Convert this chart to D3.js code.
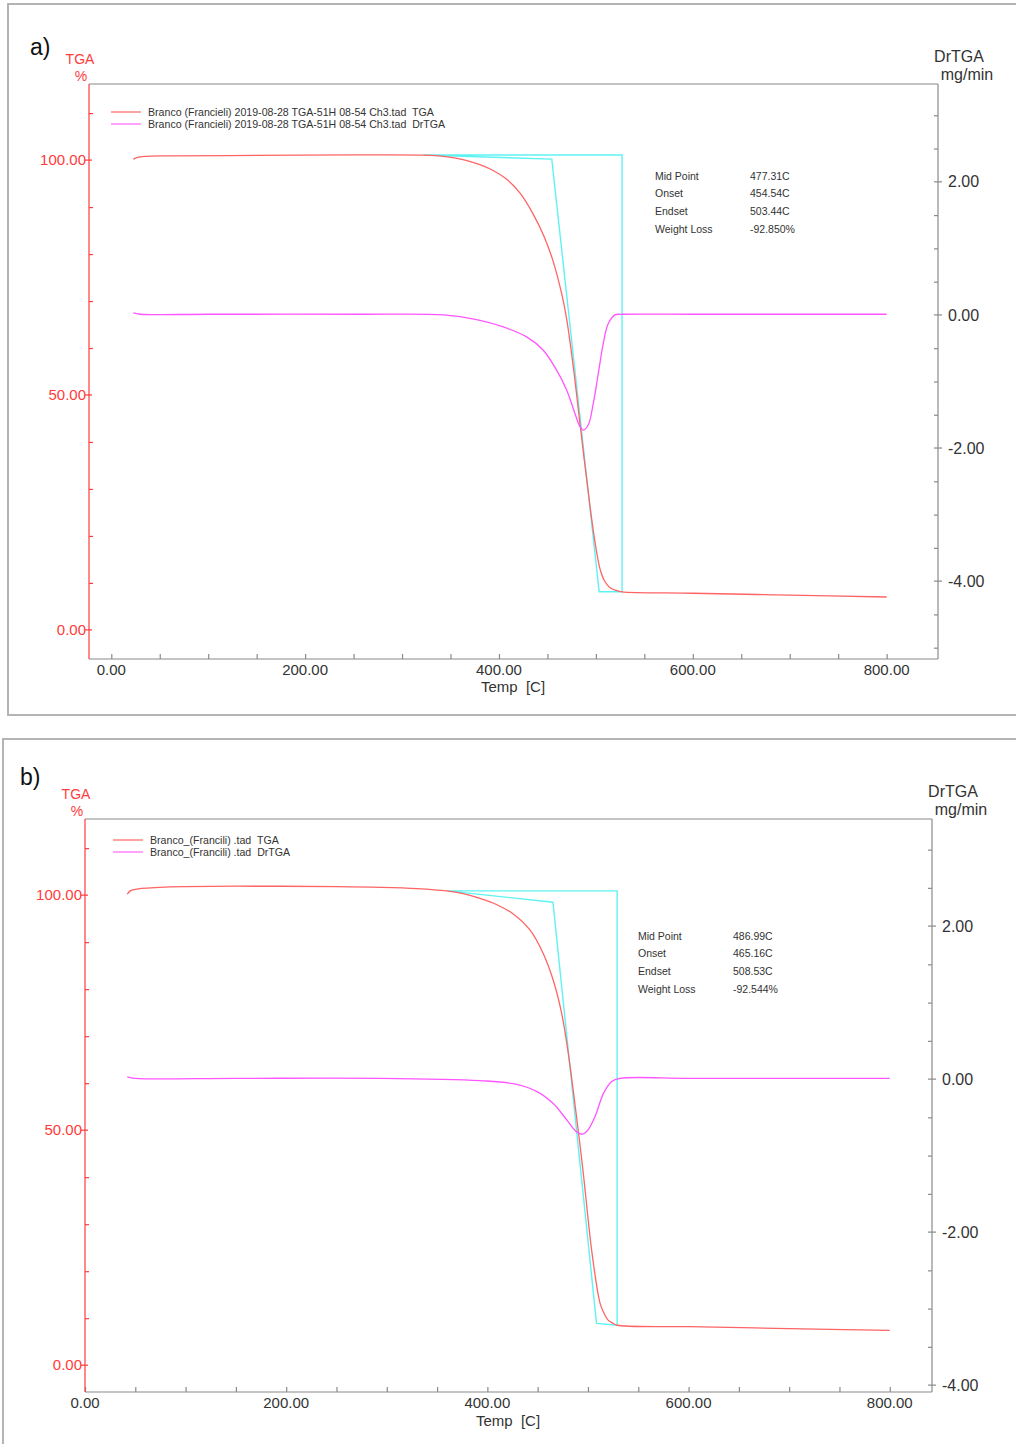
<!DOCTYPE html>
<html>
<head>
<meta charset="utf-8">
<script src="https://cdn.jsdelivr.net/npm/d3@7"></script>
<style>
  body { margin: 0; background: #fff; }
  svg { display: block; font-family: "Liberation Sans", Arial, sans-serif; }
  text { white-space: pre; }
</style>
</head>
<body>
<svg id="chart" width="1016" height="1444"></svg>
<script>
// ---- panel a data ----
const tgaTempA = [22.7, 27, 35, 60, 150, 250, 322, 345, 363, 378, 391, 408, 422, 435, 446, 456, 465, 470, 477, 484, 494, 500, 504.5, 509, 515, 521, 527, 600, 700, 800];
const tgaA     = [100.2, 100.6, 100.8, 100.9, 101.0, 101.1, 101.06, 100.75, 100.1, 99.2, 98.1, 95.9, 92.9, 88.6, 84.0, 78.4, 71.3, 66.0, 55.5, 43.2, 26.2, 17.5, 12.8, 10.4, 8.9, 8.4, 8.1, 7.8, 7.4, 7.0];
const drTempA  = [22.7, 30, 100, 257, 343, 377, 404.5, 428.6, 445.7, 459.5, 469.9, 478.4, 483.6, 487, 492.2, 497.3, 502.5, 507.6, 512.8, 519.7, 526.6, 600, 700, 800];
const drtgaA   = [0.03, 0.01, 0.01, 0.01, 0.0, -0.07, -0.18, -0.33, -0.53, -0.83, -1.13, -1.48, -1.68, -1.73, -1.65, -1.33, -0.88, -0.43, -0.13, 0.0, 0.01, 0.01, 0.01, 0.01];
const cyanTempA = [322, 527, 527, 503.4, 454.5, 322];
const cyanTgaA  = [101.1, 101.1, 8.1, 8.1, 100.2, 101.1];
const legendA = ["Branco (Francieli) 2019-08-28 TGA-51H 08-54 Ch3.tad  TGA", "Branco (Francieli) 2019-08-28 TGA-51H 08-54 Ch3.tad  DrTGA"];
const resultValuesA = ["477.31C", "454.54C", "503.44C", "-92.850%"];

// ---- panel b data ----
const tgaTempB = [42, 45, 52, 80, 150, 250, 293, 330, 359.5, 376, 392.6, 410, 425.7, 442.3, 455.5, 465.5, 473.8, 480.4, 489, 495, 504, 512, 516, 520, 525, 529, 600, 700, 800];
const tgaB     = [100.2, 100.9, 101.3, 101.7, 101.9, 101.8, 101.67, 101.4, 100.9, 100.3, 99.3, 97.9, 96.0, 92.6, 87.6, 81.9, 74.9, 66.4, 52.2, 41.5, 23.9, 13.2, 11.0, 9.6, 8.9, 8.5, 8.2, 7.8, 7.4];
const drTempB  = [42, 50, 150, 293, 392.6, 425.7, 448.9, 465.5, 478.7, 488.7, 494.7, 500.3, 507, 515.3, 523.6, 531.8, 600, 700, 800];
const drtgaB   = [0.03, 0.01, 0.01, 0.01, -0.02, -0.06, -0.16, -0.32, -0.53, -0.69, -0.72, -0.66, -0.49, -0.19, -0.03, 0.01, 0.01, 0.01, 0.01];
const cyanTempB = [360, 529, 529, 508.5, 465.2, 360];
const cyanTgaB  = [100.9, 100.9, 8.5, 8.9, 98.5, 100.9];
const legendB = ["Branco_(Francili) .tad  TGA", "Branco_(Francili) .tad  DrTGA"];
const resultValuesB = ["486.99C", "465.16C", "508.53C", "-92.544%"];

// ---- shared tick setup ----
const resultLabels = ["Mid Point", "Onset", "Endset", "Weight Loss"];
const xMajor = [0, 200, 400, 600, 800];
const xMinor = d3.range(0, 801, 50);
const tgaMajor = [0, 50, 100];
const tgaMinor = d3.range(0, 111, 10);
const drMajor = [-4, -2, 0, 2];

const RED = "#ff3b3b";
const svg = d3.select("#chart");

function drawPanel(p) {
  const g = svg.append("g");

  // outer frame
  g.append("rect")
    .attr("x", p.frame[0]).attr("y", p.frame[1])
    .attr("width", p.frame[2]).attr("height", p.frame[3])
    .attr("fill", "none").attr("stroke", "#b4b4b4").attr("stroke-width", 2);

  const x = d3.scaleLinear().domain(p.xDomain).range([p.left, p.right]);
  const yL = d3.scaleLinear().domain(p.yLDomain).range([p.bottom, p.top]);
  const yR = d3.scaleLinear().domain(p.yRDomain).range([p.bottom, p.top]);

  // plot box top line
  g.append("line")
    .attr("x1", p.left).attr("x2", p.right).attr("y1", p.top).attr("y2", p.top)
    .attr("stroke", "#8a8a8a").attr("stroke-width", 1.2);

  // bottom axis
  const xAxis = g.append("g").attr("transform", `translate(0,${p.bottom})`);
  xAxis.call(d3.axisBottom(x).tickValues(xMinor).tickSize(-5).tickFormat(""));
  xAxis.select(".domain").attr("d", `M${p.left},0H${p.right}`);
  xAxis.selectAll("path,line").attr("stroke", "#8a8a8a").attr("stroke-width", 1.2);
  xAxis.selectAll(".lbl").data(xMajor).enter().append("text")
    .attr("x", d => x(d)).attr("y", 16)
    .attr("text-anchor", "middle").attr("fill", "#333").attr("font-size", 15)
    .text(d => d.toFixed(2));
  g.append("text")
    .attr("x", p.xTitle[0]).attr("y", p.xTitle[1])
    .attr("text-anchor", "middle").attr("fill", "#333").attr("font-size", 15)
    .text("Temp  [C]");

  // left TGA axis
  const lAxis = g.append("g").attr("transform", `translate(${p.left},0)`);
  lAxis.call(d3.axisLeft(yL).tickValues(tgaMinor.filter(d => !tgaMajor.includes(d))).tickSize(-4).tickFormat(""));
  lAxis.select(".domain").attr("d", `M0,${p.top}V${p.bottom}`);
  lAxis.selectAll("path,line").attr("stroke", RED).attr("stroke-width", 1.2);
  lAxis.selectAll(".maj").data(tgaMajor).enter().append("line")
    .attr("x1", -4).attr("x2", 3).attr("y1", d => yL(d)).attr("y2", d => yL(d))
    .attr("stroke", RED).attr("stroke-width", 1.2);
  lAxis.selectAll(".lbl").data(tgaMajor).enter().append("text")
    .attr("x", -3).attr("y", d => yL(d)).attr("dy", "0.35em")
    .attr("text-anchor", "end").attr("fill", RED).attr("font-size", 15)
    .text(d => d.toFixed(2));
  g.append("text").attr("x", p.tgaTitle[0]).attr("y", p.tgaTitle[1])
    .attr("text-anchor", "middle").attr("fill", RED).attr("font-size", 14).text("TGA");
  g.append("text").attr("x", p.tgaTitle[0] + 1).attr("y", p.tgaTitle[1] + 17)
    .attr("text-anchor", "middle").attr("fill", RED).attr("font-size", 14).text("%");

  // right DrTGA axis
  const drMinor = d3.range(Math.ceil(p.yRDomain[0] * 2) / 2, p.yRDomain[1], 0.5)
    .filter(d => !drMajor.includes(d));
  const rAxis = g.append("g").attr("transform", `translate(${p.right},0)`);
  rAxis.call(d3.axisRight(yR).tickValues(drMinor).tickSize(-4).tickFormat(""));
  rAxis.select(".domain").attr("d", `M0,${p.top}V${p.bottom}`);
  rAxis.selectAll("path,line").attr("stroke", "#8a8a8a").attr("stroke-width", 1.2);
  rAxis.selectAll(".maj").data(drMajor).enter().append("line")
    .attr("x1", -4).attr("x2", 4).attr("y1", d => yR(d)).attr("y2", d => yR(d))
    .attr("stroke", "#8a8a8a").attr("stroke-width", 1.2);
  rAxis.selectAll(".lbl").data(drMajor).enter().append("text")
    .attr("x", 10).attr("y", d => yR(d)).attr("dy", "0.35em")
    .attr("text-anchor", "start").attr("fill", "#333").attr("font-size", 16)
    .text(d => d.toFixed(2));
  g.append("text").attr("x", p.drTitle[0]).attr("y", p.drTitle[1])
    .attr("text-anchor", "middle").attr("fill", "#333").attr("font-size", 16).text("DrTGA");
  g.append("text").attr("x", p.drTitle[0] + 8).attr("y", p.drTitle[1] + 18)
    .attr("text-anchor", "middle").attr("fill", "#333").attr("font-size", 16).text("mg/min");

  // panel letter
  g.append("text").attr("x", p.letter[0]).attr("y", p.letter[1])
    .attr("fill", "#111").attr("font-size", 23).text(p.name);

  // cyan construction lines
  const cyan = d3.line().x(d => x(d[0])).y(d => yL(d[1]));
  g.append("path")
    .datum(d3.zip(p.cyanT, p.cyanV))
    .attr("d", cyan).attr("fill", "none")
    .attr("stroke", "#5ff2f2").attr("stroke-width", 1.4);

  // TGA curve
  const tgaLine = d3.line().x(d => x(d[0])).y(d => yL(d[1])).curve(d3.curveCatmullRom.alpha(0.5));
  g.append("path")
    .datum(d3.zip(p.tgaT, p.tga))
    .attr("d", tgaLine).attr("fill", "none")
    .attr("stroke", "#ff6464").attr("stroke-width", 1.3);

  // DrTGA curve
  const drLine = d3.line().x(d => x(d[0])).y(d => yR(d[1])).curve(d3.curveCatmullRom.alpha(0.5));
  g.append("path")
    .datum(d3.zip(p.drT, p.dr))
    .attr("d", drLine).attr("fill", "none")
    .attr("stroke", "#ff55ff").attr("stroke-width", 1.3);

  // legend
  const leg = g.append("g").attr("transform", `translate(${p.legend[0]},${p.legend[1]})`);
  ["#ff6464", "#ff66ff"].forEach((c, i) => {
    leg.append("line").attr("x1", 0).attr("x2", 30).attr("y1", i * 12).attr("y2", i * 12)
      .attr("stroke", c).attr("stroke-width", 1.2);
    leg.append("text").attr("x", 37).attr("y", i * 12).attr("dy", "0.35em")
      .attr("fill", "#333").attr("font-size", 10.6).text(p.legendText[i]);
  });

  // result table
  const res = g.append("g").attr("transform", `translate(${p.results[0]},${p.results[1]})`);
  resultLabels.forEach((lab, i) => {
    res.append("text").attr("x", 0).attr("y", i * p.results[3]).attr("dy", "0.35em")
      .attr("fill", "#333").attr("font-size", 10.5).text(lab);
    res.append("text").attr("x", p.results[2]).attr("y", i * p.results[3]).attr("dy", "0.35em")
      .attr("fill", "#333").attr("font-size", 10.5).text(p.resultValues[i]);
  });
}

drawPanel({
  name: "a)", letter: [30, 55],
  frame: [8, 4, 1030, 711],
  left: 89, right: 938, top: 84, bottom: 659,
  xDomain: [-23, 853], yLDomain: [-6.2, 116.2], yRDomain: [-5.17, 3.47],
  xTitle: [513, 692], tgaTitle: [80, 64], drTitle: [959, 62],
  tgaT: tgaTempA, tga: tgaA, drT: drTempA, dr: drtgaA,
  cyanT: cyanTempA, cyanV: cyanTgaA,
  legend: [111, 112], legendText: legendA,
  results: [655, 176, 95, 17.7], resultValues: resultValuesA
});

drawPanel({
  name: "b)", letter: [20, 785],
  frame: [3, 739, 1030, 720],
  left: 85, right: 932, top: 819, bottom: 1392,
  xDomain: [0, 842], yLDomain: [-5.7, 116.2], yRDomain: [-4.09, 3.40],
  xTitle: [508, 1426], tgaTitle: [76, 799], drTitle: [953, 797],
  tgaT: tgaTempB, tga: tgaB, drT: drTempB, dr: drtgaB,
  cyanT: cyanTempB, cyanV: cyanTgaB,
  legend: [113, 840], legendText: legendB,
  results: [638, 936, 95, 17.7], resultValues: resultValuesB
});
</script>
</body>
</html>
